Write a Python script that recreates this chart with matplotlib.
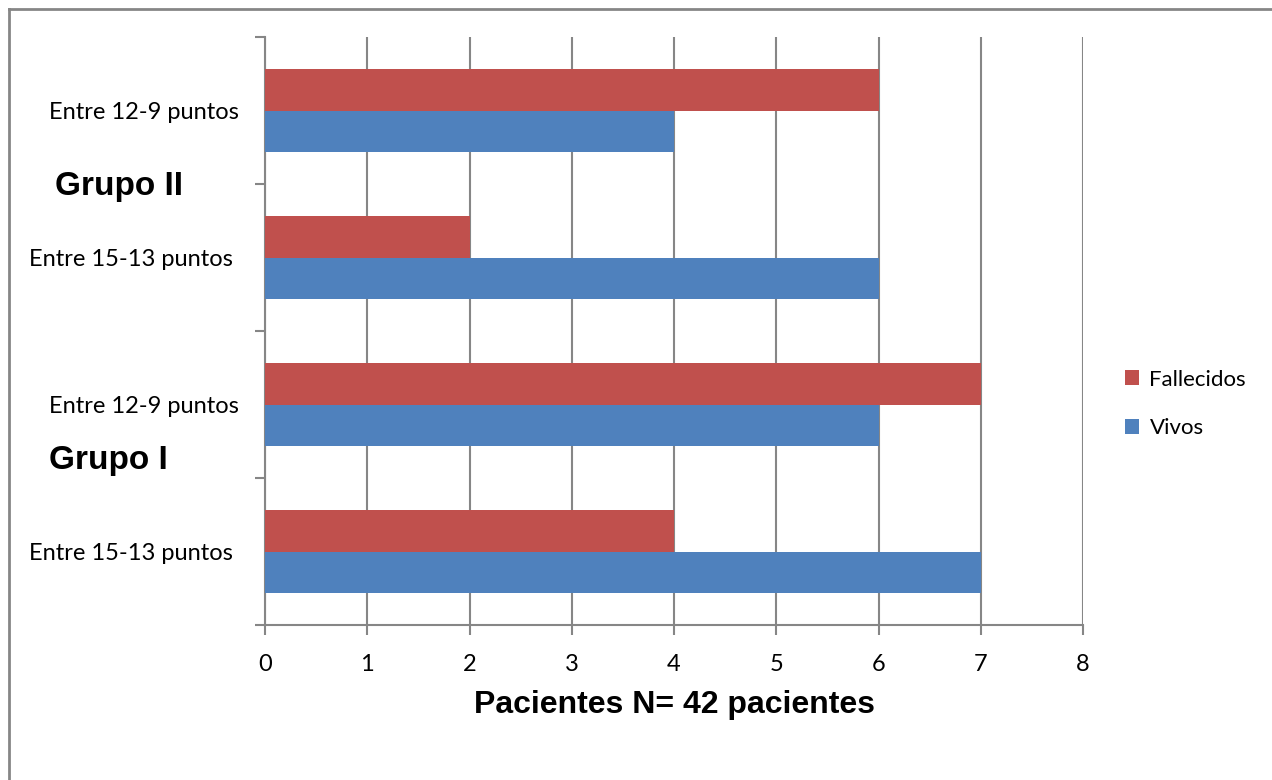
import numpy as np
import matplotlib
matplotlib.use("Agg")
from matplotlib import pyplot as plt
from matplotlib import transforms
from matplotlib.lines import Line2D

categorias = ["Entre 15-13 puntos ", "Entre 12-9 puntos", "Entre 15-13 puntos ", "Entre 12-9 puntos"]
vivos      = [7, 6, 6, 4]
fallecidos = [4, 7, 2, 6]
grupos     = ["Grupo I", "Grupo II"]
xticks     = [0, 1, 2, 3, 4, 5, 6, 7, 8]

azul, rojo, gris = "#4F81BD", "#C0504D", "#868686"
plt.rcParams['font.family'] = ['Lato', 'DejaVu Sans']

fig = plt.figure(figsize=(12.72, 7.8), dpi=100)
ax = fig.add_axes([265/1272, 1-625/780, (1083-265)/1272, (625-37)/780])

y = np.arange(len(categorias))
h = 0.28
ax.barh(y - h/2, vivos, height=h, color=azul, label="Vivos", zorder=3)
ax.barh(y + h/2, fallecidos, height=h, color=rojo, label="Fallecidos", zorder=3)

ax.set_xlim(0, 8); ax.set_ylim(-0.5, len(categorias) - 0.5)
ax.set_xticks(xticks)
ax.set_yticks(y); ax.set_yticklabels(categorias)
ax.set_yticks(np.arange(-0.5, len(categorias)), minor=True)
ax.tick_params(axis='y', which='major', length=0, pad=19, labelsize=17)
ax.tick_params(axis='y', which='minor', length=7, width=1.5, color=gris, direction='out')
ax.tick_params(axis='x', length=7, width=1.5, color=gris, direction='out', labelsize=17, pad=14)
ax.grid(axis='x', color=gris, lw=1.5, zorder=0)
for s in ["top", "right"]: ax.spines[s].set_visible(False)
for s in ["left", "bottom"]: ax.spines[s].set_color(gris); ax.spines[s].set_linewidth(1.5)

ax.set_xlabel("Pacientes N= 42 pacientes", family="Liberation Sans", fontweight="bold", fontsize=23, labelpad=11)

# group labels on the left
tr = transforms.blended_transform_factory(fig.transFigure, ax.transData)
ax.text(108/1272, 0.62, grupos[0], transform=tr, ha="center", va="center",
        family="Liberation Sans", fontweight="bold", fontsize=24)
ax.text(119/1272, 2.48, grupos[1], transform=tr, ha="center", va="center",
        family="Liberation Sans", fontweight="bold", fontsize=24)

hd, lb = ax.get_legend_handles_labels()
leg = ax.legend(hd[::-1], lb[::-1], loc="center left", bbox_to_anchor=(1105/1272, 1-404/780),
                bbox_transform=fig.transFigure, frameon=False, fontsize=16,
                handlelength=0.65, handleheight=0.65, handletextpad=0.45, labelspacing=1.3)

# outer border (top and left visible)
fig.add_artist(Line2D([8.5/1272, 8.5/1272], [0, 1-8.5/780], transform=fig.transFigure, color=gris, lw=2))
fig.add_artist(Line2D([8.5/1272, 1], [1-8.5/780, 1-8.5/780], transform=fig.transFigure, color=gris, lw=2))

fig.savefig("out.png", dpi=100)
